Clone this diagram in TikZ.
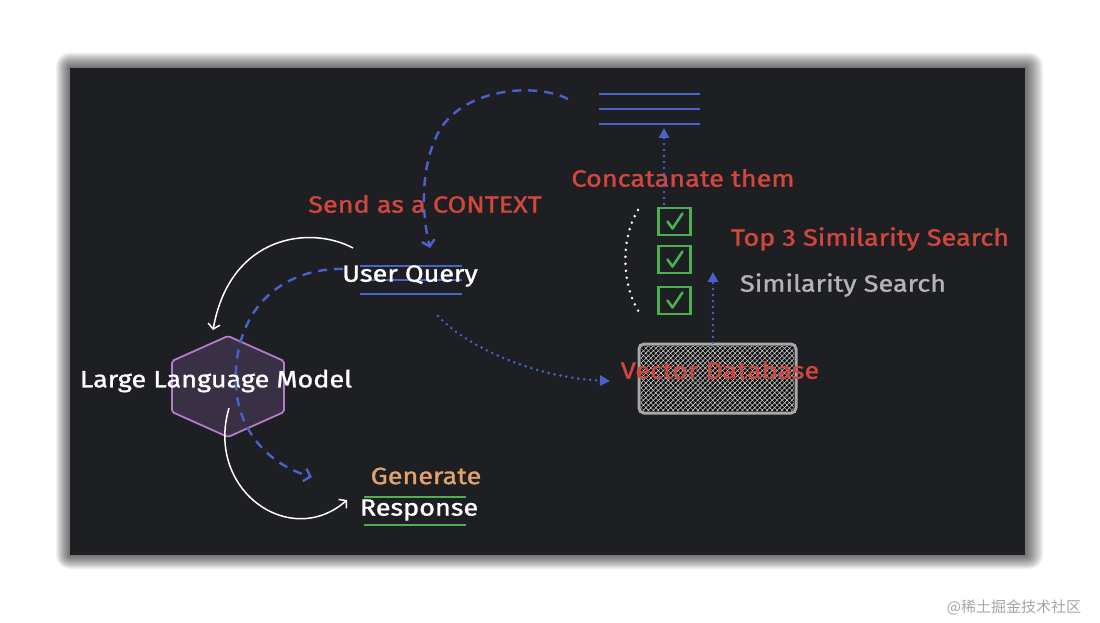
\documentclass[tikz,border=0pt]{standalone}
\usepackage{fontspec}
\setmainfont{Fira Sans}[FakeStretch=1.15,FakeBold=1.2]
\newfontfamily\cjkfont{Noto Sans CJK SC}
\usetikzlibrary{arrows.meta,patterns,patterns.meta,calc}
\definecolor{panel}{HTML}{1E1F23}
\definecolor{xred}{HTML}{D2473D}
\definecolor{xblue}{HTML}{4A62CC}
\definecolor{xgreen}{HTML}{4CAF50}
\definecolor{xgray}{HTML}{B4B4B4}
\definecolor{xorange}{HTML}{E3A36C}
\definecolor{hexfill}{HTML}{3A3046}
\definecolor{hexline}{HTML}{B57CCB}
\definecolor{dbline}{HTML}{A8A8A8}
\tikzset{
  lbl/.style={font=\fontsize{23.5}{25}\selectfont, inner sep=0pt},
  bluedash/.style={draw=xblue, line width=2.4pt, dash pattern=on 9pt off 7pt, -{Straight Barb[length=6pt,width=13pt,line width=2.4pt]}},
  bluedot/.style={draw=xblue, line width=2.8pt, line cap=round, dash pattern=on 0pt off 6pt, -{Triangle[length=10pt,width=10pt]}},
  whitearc/.style={draw=white, line width=1.5pt, -{Straight Barb[length=5pt,width=12pt,line width=1.5pt]}},
  stackline/.style={draw=xblue, line width=2pt},
  greenline/.style={draw=xgreen, line width=2pt},
  checkbox/.style={draw=xgreen, line width=2.5pt, minimum width=32pt, minimum height=27pt, inner sep=0pt},
}
\begin{document}
\begin{tikzpicture}[x=1pt,y=-1pt]
\useasboundingbox (0,0) rectangle (1100,623);
\fill[white] (0,0) rectangle (1100,623);
% shadow
\foreach \i in {1,...,14}{
  \fill[black, opacity=0.05, rounded corners=\i pt] (70-\i,68-\i*1.1) rectangle (1025+\i*1.3,555+\i);
}
\fill[panel] (70,68) rectangle (1025,555);

% top stack of lines
\draw[stackline] (599,94) -- (700,94);
\draw[stackline] (599,109) -- (700,109);
\draw[stackline] (599,124) -- (700,124);
\coordinate (stackbot) at (664,128);
\coordinate (stackleft) at (568,99);

% user query lines
\draw[stackline] (360,266) -- (462,266);
\draw[stackline] (360,280) -- (462,280);
\draw[stackline] (360,294) -- (462,294);

% response lines
\draw[greenline] (364,497) -- (466,497);
\draw[greenline] (364,525) -- (466,525);

% hexagon
\filldraw[fill=hexfill, draw=hexline, line width=1.8pt, rounded corners=2pt]
  (228,336) -- (284,361) -- (284,412) -- (228,437) -- (172,412) -- (172,361) -- cycle;

% checkboxes
\foreach \n/\y in {1/221.5, 2/259.5, 3/300.5}{
  \node[checkbox] (cb\n) at (674.5,\y) {};
  \draw[xgreen, line width=2.6pt, line cap=round, line join=round]
    ($(cb\n.center)+(-7,0)$) -- ($(cb\n.center)+(-2,7)$) -- ($(cb\n.center)+(8,-8)$);
}

% vector database
\node[draw=dbline, line width=3pt, rounded corners=5pt, minimum width=157pt, minimum height=69pt,
      fill=black!90!gray, inner sep=0pt] (vdb) at (717.5,378.5) {};
\fill[pattern={Lines[angle=45,distance=3.5pt,line width=0.7pt]}, pattern color=gray!45, rounded corners=4pt] (641,346) rectangle (794,411);
\fill[pattern={Lines[angle=-45,distance=3.5pt,line width=0.4pt]}, pattern color=gray!22, rounded corners=4pt] (641,346) rectangle (794,411);

% labels
\node[lbl, text=xred] (ctx) at (425,204) {Send as a CONTEXT};
\node[lbl, text=xred] (concat) at (683,178) {Concatanate them};
\node[lbl, text=xred] (top3) at (870,239) {Top 3 Similarity Search};
\node[lbl, text=xgray] (sim) at (843,285) {Similarity Search};
\node[lbl, text=xred] (vdblabel) at (720,370) {Vector Database};
\node[lbl, text=white] (uq) at (410,276) {User Query};
\node[lbl, text=white] (llm) at (216,381) {Large Language Model};
\node[lbl, text=xorange] (gen) at (426,476) {Generate};
\node[lbl, text=white] (resp) at (419,510) {Response};
\node[font=\cjkfont\fontsize{15}{16}\selectfont, text=gray!70, inner sep=0pt] (wm) at (1014,607) {@稀土掘金技术社区};

% coordinates for connector ends
\coordinate (uqleft) at (343,269);
\coordinate (uqtop) at (430,248);
\coordinate (uqbot) at (438,316);
\coordinate (uqarc) at (353,248);
\coordinate (hextop) at (213,330);
\coordinate (hexin) at (229,408);
\coordinate (respin) at (347,500);
\coordinate (genin) at (312,477);
\coordinate (vdbleft) at (610,381);
\coordinate (vdbtop) at (713,343);
\coordinate (simtip) at (713,272);
\coordinate (cbtop) at (664,204);
\coordinate (dotA) at (638,210);
\coordinate (dotB) at (639,312);

% connectors
\draw[bluedash] (stackleft) .. controls (535,82) and (460,88) .. (437,135) .. controls (420,170) and (422,215) .. (uqtop);
\draw[bluedash] (uqleft) .. controls (290,268) and (240,300) .. (236,370) .. controls (232,430) and (270,465) .. (genin);
\draw[whitearc] (uqarc) .. controls (310,225) and (230,235) .. (hextop);
\draw[whitearc] (hexin) .. controls (205,490) and (290,550) .. (respin);
\draw[bluedot] (uqbot) .. controls (470,350) and (540,378) .. (vdbleft);
\draw[bluedot] (cbtop) -- (stackbot);
\draw[bluedot] (vdbtop) -- (simtip);
\draw[white, line width=2.8pt, line cap=round, dash pattern=on 0pt off 7pt] (dotA) .. controls (620,240) and (622,285) .. (dotB);
\end{tikzpicture}
\end{document}
